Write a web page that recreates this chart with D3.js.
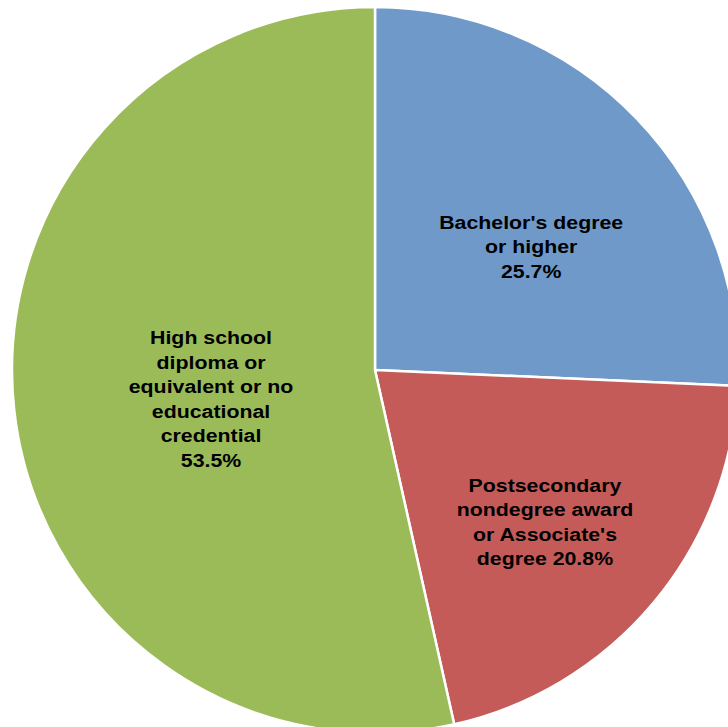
<!DOCTYPE html>
<html>
<head>
<meta charset="utf-8">
<script src="https://cdn.jsdelivr.net/npm/d3@7"></script>
<style>
  body { margin: 0; background: #fff; }
  svg text { font-family: "Liberation Sans", Arial, sans-serif; font-weight: bold; font-size: 18.7px; fill: #000; }
</style>
</head>
<body>
<div class="chart"></div>
<script>
// slice data, clockwise from 12 o'clock
const categories = [
    "Bachelor's degree or higher",
    "Postsecondary nondegree award or Associate's degree",
    "High school diploma or equivalent or no educational credential"
];
const shares = [25.7, 20.8, 53.5];
const labelLines = [
    ["Bachelor's degree", "or higher", "25.7%"],
    ["Postsecondary", "nondegree award", "or Associate's", "degree 20.8%"],
    ["High school", "diploma or", "equivalent or no", "educational", "credential", "53.5%"]
];
const colors = ["#6f99c9", "#c45b58", "#9bbb59"];

(function(){
    const svgWidth = 728, svgHeight = 727;
    const cx = 375, cy = 370, radius = 363;
    const lineHeight = 24.6;

    // label anchors (angle in degrees clockwise from top, distance from centre)
    const labelSpots = [[51.7, 199], [131.8, 228], [260, 166.5]];

    const svg = d3.select(".chart")
        .append("svg")
        .attr("width", svgWidth)
        .attr("height", svgHeight);

    const chartGroup = svg.append("g")
        .attr("transform", `translate(${cx}, ${cy})`);

    const pie = d3.pie().sort(null).value(d => d);
    const arc = d3.arc().innerRadius(0).outerRadius(radius);

    const slices = pie(shares);

    chartGroup.selectAll("path")
        .data(slices)
        .enter()
        .append("path")
        .attr("d", arc)
        .attr("fill", (d, i) => colors[i])
        .attr("stroke", "#fff")
        .attr("stroke-width", 2.5)
        .attr("stroke-linejoin", "round");

    // Labels (the original text is a bit wide, hence the x stretch)
    const labels = chartGroup.selectAll("text.lbl")
        .data(slices)
        .enter()
        .append("text")
        .attr("class", "lbl")
        .attr("text-anchor", "middle")
        .attr("transform", (d, i) => {
            const a = labelSpots[i][0] * Math.PI / 180, r = labelSpots[i][1];
            return `translate(${r * Math.sin(a)}, ${-r * Math.cos(a)}) scale(1.14, 1)`;
        });

    labels.each(function(d, i) {
        const lines = labelLines[i];
        const top = -(lines.length - 1) * lineHeight / 2;
        d3.select(this).selectAll("tspan")
            .data(lines)
            .enter()
            .append("tspan")
            .attr("x", 0)
            .attr("y", (t, j) => top + j * lineHeight)
            .attr("dy", "0.35em")
            .text(t => t);
    });
})();
</script>
</body>
</html>
